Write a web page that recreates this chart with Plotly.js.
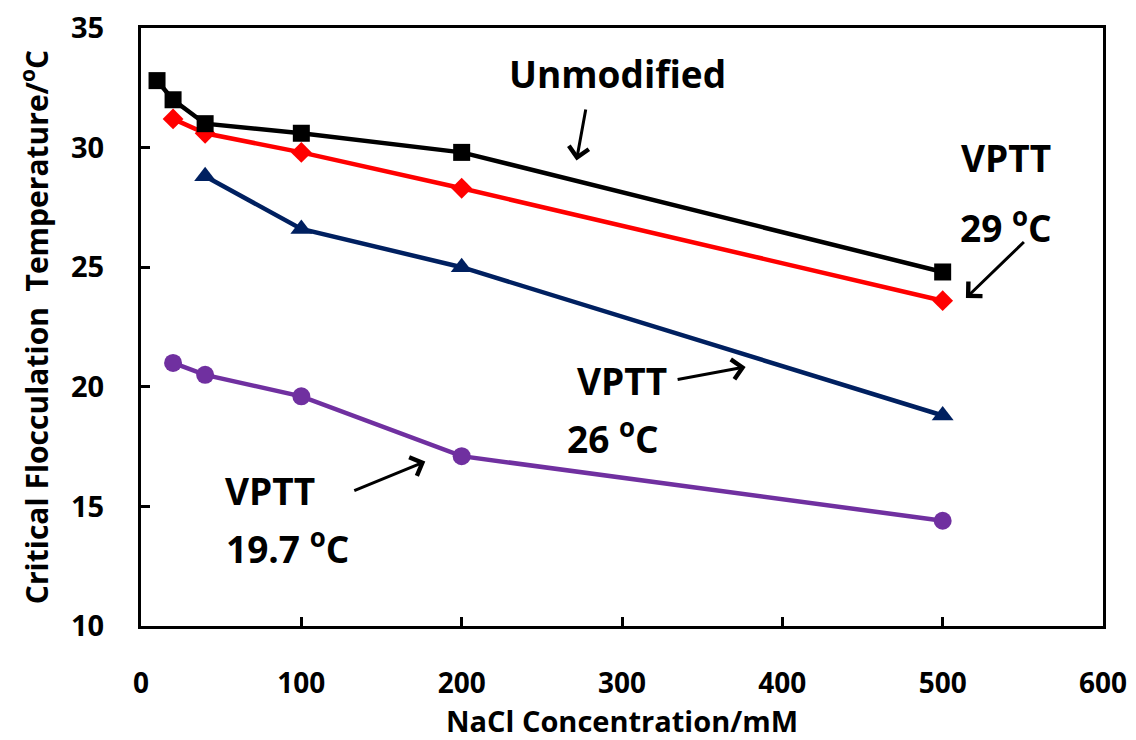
<!DOCTYPE html>
<html>
<head>
<meta charset="utf-8">
<script src="https://cdn.plot.ly/plotly-3.0.1.min.js"></script>
<style>html,body{margin:0;padding:0;background:#fff;}#chart{width:1136px;height:740px;}</style>
</head>
<body>
<div id="chart"></div>
<script>
// NaCl concentration (mM) and critical flocculation temperature (°C)
const unmodX = [10, 20, 40, 100, 200, 500];
const unmodY = [32.8, 32.0, 31.0, 30.6, 29.8, 24.8];
const vptt29X = [20, 40, 100, 200, 500];
const vptt29Y = [31.2, 30.6, 29.8, 28.3, 23.6];
const vptt26X = [40, 100, 200, 500];
const vptt26Y = [28.8, 26.6, 25.0, 18.8];
const vptt197X = [20, 40, 100, 200, 500];
const vptt197Y = [21.0, 20.5, 19.6, 17.1, 14.4];

const xTicks = [0, 100, 200, 300, 400, 500, 600];
const yTicks = [10, 15, 20, 25, 30, 35];

const FONT = '"Open Sans", "DejaVu Sans", sans-serif';

function series(x, y, color, symbol, size) {
  return {
    x: x, y: y, type: 'scatter', mode: 'lines+markers',
    line: {color: color, width: 4.5},
    marker: {color: color, symbol: symbol, size: size},
    showlegend: false, hoverinfo: 'skip'
  };
}

const data = [
  series(vptt197X, vptt197Y, '#7030A0', 'circle', 18),
  series(vptt26X, vptt26Y, '#002060', 'triangle-up', 19),
  series(vptt29X, vptt29Y, '#FF0000', 'diamond', 16),
  series(unmodX, unmodY, '#000000', 'square', 17)
];

function label(text, x, y) {
  return {text: '<b>' + text + '</b>', x: x, y: y, xref: 'x', yref: 'y', showarrow: false,
          font: {family: FONT, size: 37, color: '#000'}, xanchor: 'center', yanchor: 'middle'};
}
function arrow(x, y, ax, ay) {
  return {text: ' ', x: x, y: y, xref: 'x', yref: 'y', ax: ax, ay: ay, axref: 'pixel', ayref: 'pixel',
          showarrow: true, arrowhead: 4, arrowsize: 1.3, arrowwidth: 3, arrowcolor: '#000',
          font: {size: 4}};
}

const layout = {
  width: 1136, height: 740,
  margin: {l: 141, r: 33, t: 28, b: 114},
  paper_bgcolor: '#fff', plot_bgcolor: '#fff',
  font: {family: FONT, color: '#000'},
  xaxis: {
    range: [0, 600], tickvals: xTicks, ticktext: xTicks.map(String),
    showgrid: false, zeroline: false, showline: true, mirror: true,
    linecolor: '#000', linewidth: 3, ticks: 'inside', ticklen: 9, tickwidth: 3, tickcolor: '#000',
    tickfont: {family: FONT, size: 28, color: '#000', weight: 'bold'},
    ticklabelstandoff: 30,
    title: {text: '<b>NaCl Concentration/mM</b>', font: {family: FONT, size: 29, color: '#000'}, standoff: 10}
  },
  yaxis: {
    range: [10, 35], tickvals: yTicks, ticktext: yTicks.map(String),
    showgrid: false, zeroline: false, showline: true, mirror: true,
    linecolor: '#000', linewidth: 3, ticks: 'inside', ticklen: 9, tickwidth: 3, tickcolor: '#000',
    tickfont: {family: FONT, size: 29, color: '#000', weight: 'bold'},
    ticklabelstandoff: 28,
    title: {text: '<b>Critical Flocculation  Temperature/<sup>o</sup>C</b>', font: {family: FONT, size: 30, color: '#000'}, standoff: 14}
  },
  annotations: [
    label('Unmodified', 297, 33.1),
    arrow(271.6, 29.46, 10, -55),
    label('VPTT', 539.4, 29.6),
    label('29 <sup>o</sup>C', 539.4, 26.75),
    arrow(514.5, 23.71, 60, -58),
    label('VPTT', 299.7, 20.25),
    label('26 <sup>o</sup>C', 294.1, 17.92),
    arrow(377.1, 20.83, -70, 13),
    label('VPTT', 80.5, 15.67),
    label('19.7 <sup>o</sup>C', 91.2, 13.33),
    arrow(177.3, 16.875, -73, 30)
  ]
};

Plotly.newPlot('chart', data, layout, {staticPlot: true, displayModeBar: false});
</script>
</body>
</html>
